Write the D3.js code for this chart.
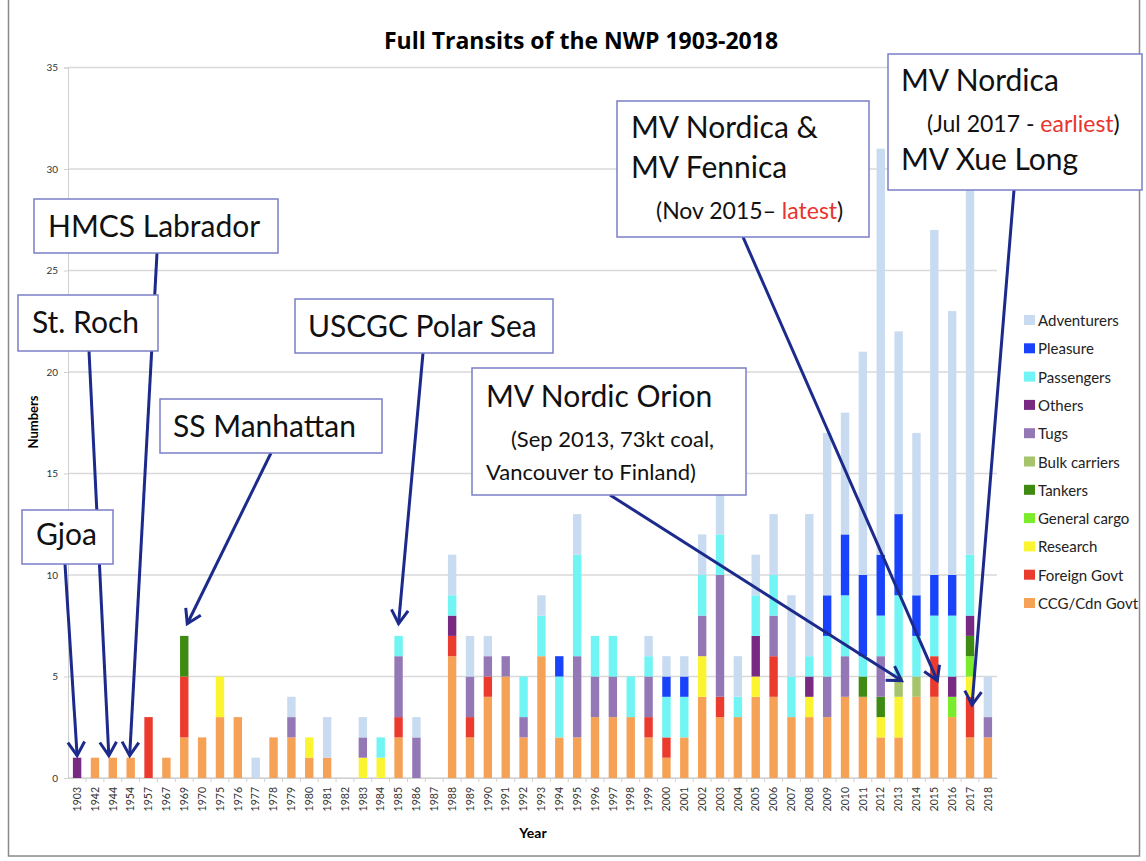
<!DOCTYPE html>
<html>
<head>
<meta charset="utf-8">
<script src="https://cdn.jsdelivr.net/npm/d3@7"></script>
<style>
  body { margin: 0; background: #fff; }
  svg { font-family: Lato, "Open Sans", sans-serif; }
</style>
</head>
<body>
<div id="chart"></div>
<script>
// categories on the x axis
var years = ["1903","1942","1944","1954","1957","1967","1969","1970","1975","1976",
  "1977","1978","1979","1980","1981","1982","1983","1984","1985","1986",
  "1987","1988","1989","1990","1991","1992","1993","1994","1995","1996",
  "1997","1998","1999","2000","2001","2002","2003","2004","2005","2006",
  "2007","2008","2009","2010","2011","2012","2013","2014","2015","2016",
  "2017","2018"];

// series values, stacked bottom to top
var ccg = [0,1,1,1,0,1,2,2,3,3, 0,2,2,1,1,0,0,0,2,0, 0,6,2,4,5,2,6,2,2,3, 3,3,2,1,2,4,3,3,4,4, 3,3,3,4,4,2,2,4,4,3, 2,2];
var foreignGovt = [0,0,0,0,3,0,3,0,0,0, 0,0,0,0,0,0,0,0,1,0, 0,1,1,1,0,0,0,0,0,0, 0,0,1,1,0,0,1,0,0,2, 0,0,0,0,0,0,0,0,2,0, 2,0];
var research = [0,0,0,0,0,0,0,0,2,0, 0,0,0,1,0,0,1,1,0,0, 0,0,0,0,0,0,0,0,0,0, 0,0,0,0,0,2,0,0,1,0, 0,1,0,0,0,1,2,0,0,0, 1,0];
var generalCargo = [0,0,0,0,0,0,0,0,0,0, 0,0,0,0,0,0,0,0,0,0, 0,0,0,0,0,0,0,0,0,0, 0,0,0,0,0,0,0,0,0,0, 0,0,0,0,0,0,0,0,0,1, 1,0];
var tankers = [0,0,0,0,0,0,2,0,0,0, 0,0,0,0,0,0,0,0,0,0, 0,0,0,0,0,0,0,0,0,0, 0,0,0,0,0,0,0,0,0,0, 0,0,0,0,1,1,0,0,0,0, 1,0];
var bulkCarriers = [0,0,0,0,0,0,0,0,0,0, 0,0,0,0,0,0,0,0,0,0, 0,0,0,0,0,0,0,0,0,0, 0,0,0,0,0,0,0,0,0,0, 0,0,0,0,0,0,1,1,0,0, 0,0];
var tugs = [0,0,0,0,0,0,0,0,0,0, 0,0,1,0,0,0,1,0,3,2, 0,0,2,1,1,1,0,0,4,2, 2,0,2,0,0,2,6,0,0,2, 0,0,2,2,0,2,0,0,0,0, 0,1];
var others = [1,0,0,0,0,0,0,0,0,0, 0,0,0,0,0,0,0,0,0,0, 0,1,0,0,0,0,0,0,0,0, 0,0,0,0,0,0,0,0,2,0, 0,1,0,0,0,0,0,0,0,1, 1,0];
var passengers = [0,0,0,0,0,0,0,0,0,0, 0,0,0,0,0,0,0,1,1,0, 0,1,0,0,0,2,2,3,5,2, 2,2,1,2,2,2,2,1,2,2, 2,1,2,3,1,2,4,2,2,3, 3,0];
var pleasure = [0,0,0,0,0,0,0,0,0,0, 0,0,0,0,0,0,0,0,0,0, 0,0,0,0,0,0,0,1,0,0, 0,0,0,1,1,0,0,0,0,0, 0,0,2,3,4,3,4,2,2,2, 0,0];
var adventurers = [0,0,0,0,0,0,0,0,0,0, 1,0,1,0,2,0,1,0,0,1, 0,2,2,1,0,0,1,0,2,0, 0,0,1,1,1,2,2,2,2,3, 4,7,8,6,11,20,9,8,17,13, 22,2];

var seriesNames = ["CCG/Cdn Govt","Foreign Govt","Research","General cargo","Tankers",
  "Bulk carriers","Tugs","Others","Passengers","Pleasure","Adventurers"];
var seriesValues = [ccg, foreignGovt, research, generalCargo, tankers,
  bulkCarriers, tugs, others, passengers, pleasure, adventurers];
var seriesColors = ["#f5a257","#ea3b2e","#fbf430","#7aec2c","#3e8a12",
  "#a6c46c","#9478b6","#782a83","#70f4f4","#1843fa","#c8dbf1"];

var yTicks = [0,5,10,15,20,25,30,35];

// annotations: target bar, point on it, box and arrow start
var notes = [
  {year:"1903", at:1, box:[22,510,91,54], from:[65,564], lines:[{t:"Gjoa", x:14, y:35, s:30}]},
  {year:"1944", at:1, dx:-4, box:[18,295,140,56], from:[89,351], lines:[{t:"St. Roch", x:14, y:38, s:30}]},
  {year:"1954", at:1, dx:-1, box:[34,199,244,54], from:[157,253], lines:[{t:"HMCS Labrador", x:14, y:38, s:30}]},
  {year:"1969", at:7.5, dx:3, box:[160,399,222,54], from:[271,453], lines:[{t:"SS Manhattan", x:13, y:38, s:30}]},
  {year:"1985", at:7.5, box:[295,299,258,54], from:[423,353], lines:[{t:"USCGC Polar Sea", x:13, y:38, s:30}]},
  {year:"2013", at:4.7, dx:3, box:[472,368,274,127], from:[610,495], lines:[
    {t:"MV Nordic Orion", x:14, y:39, s:30},
    {t:"(Sep 2013, 73kt coal,", x:39, y:79, s:22},
    {t:"Vancouver to Finland)", x:14, y:112, s:22}]},
  {year:"2015", at:4.7, dx:3, box:[617,101,252,136], from:[743,237], lines:[
    {t:"MV Nordica &", x:14, y:37, s:30},
    {t:"MV Fennica", x:14, y:77, s:30},
    {t:"(Nov 2015\u2013 ", red:"latest", end:")", x:39, y:118, s:23}]},
  {year:"2017", at:3.5, dx:2, box:[888,54,254,136], from:[1014,190], lines:[
    {t:"MV Nordica", x:13, y:37, s:30},
    {t:"(Jul 2017 - ", red:"earliest", end:")", x:39, y:78, s:23},
    {t:"MV Xue Long", x:13, y:116, s:30}]}
];

var W = 1146, H = 861;
var svg = d3.select("#chart").append("svg")
  .attr("width", W).attr("height", H);

// outer frame
svg.append("rect")
  .attr("x", 8.5).attr("y", -2).attr("width", 1131).attr("height", 858)
  .attr("fill", "none").attr("stroke", "#8a8a8a").attr("stroke-width", 1.5);

var x = d3.scaleBand().domain(years).range([68, 997])
  .paddingInner(0.53).paddingOuter(0.275);
var y = d3.scaleLinear().domain([0, 35]).range([778, 67.5]);

// gridlines
svg.append("g").selectAll("line")
  .data(yTicks)
  .enter().append("line")
  .attr("x1", 68).attr("x2", 997)
  .attr("y1", d => y(d)).attr("y2", d => y(d))
  .attr("stroke", "#d9d9d9").attr("stroke-width", 1.5);

// y axis
var yAxis = svg.append("g")
  .attr("transform", "translate(68,0)")
  .call(d3.axisLeft(y).tickValues(yTicks).tickSize(4).tickPadding(6));
yAxis.select(".domain").attr("stroke", "#d0d0d0");
yAxis.selectAll(".tick line").attr("stroke", "#d0d0d0");
yAxis.selectAll("text").attr("font-size", 10).attr("fill", "#333")
  .attr("font-family", "Lato, sans-serif");

// x axis
var xAxis = svg.append("g")
  .attr("transform", "translate(0,778)")
  .call(d3.axisBottom(x).tickSize(0).tickPadding(0));
xAxis.select(".domain").attr("stroke", "#d0d0d0");
xAxis.selectAll("text")
  .attr("font-size", 10.5).attr("fill", "#333")
  .attr("font-family", "Lato, sans-serif")
  .attr("text-anchor", "end")
  .attr("dy", "0.35em")
  .attr("transform", "translate(0,9) rotate(-90)");
// small separators between categories
svg.append("g").selectAll("line")
  .data(years.slice(1))
  .enter().append("line")
  .attr("x1", d => x(d) - x.step() * x.paddingInner() / 2)
  .attr("x2", d => x(d) - x.step() * x.paddingInner() / 2)
  .attr("y1", 778).attr("y2", 782)
  .attr("stroke", "#d0d0d0");

// stacked bars
var table = years.map(function(yr, i) {
  var row = {year: yr};
  seriesNames.forEach(function(n, k) { row[n] = seriesValues[k][i]; });
  return row;
});
var stacked = d3.stack().keys(seriesNames)(table);
svg.append("g").selectAll("g")
  .data(stacked)
  .enter().append("g")
  .attr("fill", (d, i) => seriesColors[i])
  .selectAll("rect")
  .data(d => d.filter(p => p[1] > p[0]))
  .enter().append("rect")
  .attr("x", d => x(d.data.year))
  .attr("width", x.bandwidth())
  .attr("y", d => y(d[1]))
  .attr("height", d => y(d[0]) - y(d[1]));

// title and axis titles
svg.append("text")
  .attr("x", 581).attr("y", 49)
  .attr("text-anchor", "middle")
  .attr("font-family", "'Open Sans', sans-serif")
  .attr("font-size", 23).attr("font-weight", "bold")
  .text("Full Transits of the NWP 1903-2018");
svg.append("text")
  .attr("transform", "translate(38,422) rotate(-90)")
  .attr("text-anchor", "middle")
  .attr("font-size", 13).attr("font-weight", "bold")
  .text("Numbers");
svg.append("text")
  .attr("x", 533).attr("y", 838)
  .attr("text-anchor", "middle")
  .attr("font-size", 14).attr("font-weight", "bold")
  .text("Year");

// legend
var legend = svg.append("g").selectAll("g")
  .data(seriesNames.slice().reverse())
  .enter().append("g")
  .attr("transform", (d, i) => "translate(1024," + (315 + i * 28.3) + ")");
legend.append("rect")
  .attr("width", 11).attr("height", 10)
  .attr("fill", d => seriesColors[seriesNames.indexOf(d)]);
legend.append("text")
  .attr("x", 14).attr("y", 11)
  .attr("font-size", 15).attr("fill", "#222")
  .text(d => d);

// annotations: all arrows first, boxes on top
var ann = svg.append("g");
var arrows = ann.append("g");
var boxes = ann.append("g");
notes.forEach(function(n) {
  var tx = x(n.year) + x.bandwidth() / 2 + (n.dx || 0);
  var ty = y(n.at) - 2;
  var sx = n.from[0], sy = n.from[1];
  arrows.append("line")
    .attr("x1", sx).attr("y1", sy).attr("x2", tx).attr("y2", ty)
    .attr("stroke", "#1c2a8c").attr("stroke-width", 3);
  var a = Math.atan2(ty - sy, tx - sx), L = 16, s = 0.55;
  arrows.append("path")
    .attr("d", "M" + (tx - L * Math.cos(a - s)) + "," + (ty - L * Math.sin(a - s)) +
      "L" + tx + "," + ty +
      "L" + (tx - L * Math.cos(a + s)) + "," + (ty - L * Math.sin(a + s)))
    .attr("fill", "none").attr("stroke", "#1c2a8c").attr("stroke-width", 3)
    .attr("stroke-linejoin", "miter");
  var g = boxes.append("g").attr("transform", "translate(" + n.box[0] + "," + n.box[1] + ")");
  g.append("rect")
    .attr("width", n.box[2]).attr("height", n.box[3])
    .attr("fill", "#fff").attr("stroke", "#7b7fc8").attr("stroke-width", 1.5);
  n.lines.forEach(function(l) {
    var t = g.append("text").attr("x", l.x).attr("y", l.y)
      .attr("font-size", l.s).attr("fill", "#111");
    t.append("tspan").text(l.t);
    if (l.red) {
      t.append("tspan").attr("fill", "#e8332e").text(l.red);
      t.append("tspan").text(l.end);
    }
  });
});
</script>
</body>
</html>
